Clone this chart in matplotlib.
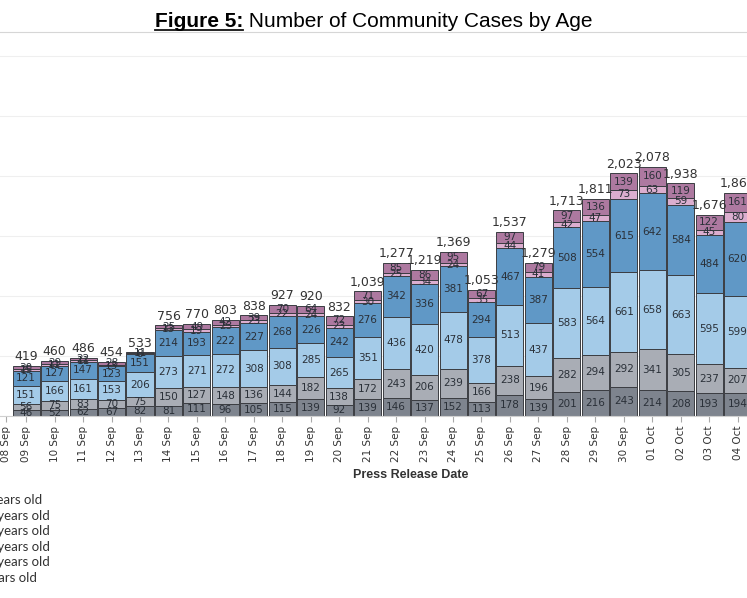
import numpy as np
import matplotlib.pyplot as plt

# press release dates (first label has no bar in the crop)
dates = ['09 Sep', '10 Sep', '11 Sep', '12 Sep', '13 Sep', '14 Sep', '15 Sep',
         '16 Sep', '17 Sep', '18 Sep', '19 Sep', '20 Sep', '21 Sep', '22 Sep',
         '23 Sep', '24 Sep', '25 Sep', '26 Sep', '27 Sep', '28 Sep', '29 Sep',
         '30 Sep', '01 Oct', '02 Oct', '03 Oct', '04 Oct']
first_date = '08 Sep'

# stacked segments, bottom to top
seg1 = [46, 52, 62, 67, 82, 81, 111, 96, 105, 115, 139, 92, 139, 146, 137, 152,
        113, 178, 139, 201, 216, 243, 214, 208, 193, 194]
seg2 = [56, 75, 83, 70, 75, 150, 127, 148, 136, 144, 182, 138, 172, 243, 206, 239,
        166, 238, 196, 282, 294, 292, 341, 305, 237, 207]
seg3 = [151, 166, 161, 153, 206, 273, 271, 272, 308, 308, 285, 265, 351, 436, 420, 478,
        378, 513, 437, 583, 564, 661, 658, 663, 595, 599]
seg4 = [121, 127, 147, 123, 151, 214, 193, 222, 227, 268, 226, 242, 276, 342, 336, 381,
        294, 467, 387, 508, 554, 615, 642, 584, 484, 620]
seg5 = [15, 11, 11, 13, 8, 13, 19, 23, 23, 22, 24, 23, 30, 25, 34, 24,
        35, 44, 41, 42, 47, 73, 63, 59, 45, 80]
seg6 = [30, 29, 22, 28, 11, 25, 49, 42, 39, 70, 64, 72, 71, 85, 86, 95,
        67, 97, 79, 97, 136, 139, 160, 119, 122, 161]

legend_labels = ['5-14 years old', '15-24 years old', '25-44 years old',
                 '45-64 years old', '65-79 years old', '80+ years old']

colors = ['#7e848e', '#a9adb5', '#a4cbe8', '#6098c6', '#dcaecf', '#ad79a0']

W, H = 747, 598
fig = plt.figure(figsize=(W / 100, H / 100), dpi=100)
ax = fig.add_axes([0, 1 - 416 / H, 1, (416 - 32) / H])

x = np.arange(len(dates))
bottom = np.zeros(len(dates))
for vals, col in zip([seg1, seg2, seg3, seg4, seg5, seg6], colors):
    vals = np.array(vals)
    ax.bar(x, vals, bottom=bottom, width=0.95, color=col,
           edgecolor='#3b3d42', linewidth=0.7, zorder=2)
    for xi, b, v in zip(x, bottom, vals):
        ax.text(xi, b + v / 2, str(v), ha='center', va='center',
                fontsize=7.5, color='#2a3038', zorder=3)
    bottom += vals

for xi, tot in zip(x, bottom):
    ax.text(xi, tot + 20, f'{int(tot):,}', ha='center', va='bottom',
            fontsize=9, color='#333333')

ax.set_xlim(-0.92, 25.33)
ax.set_ylim(0, 3200)
ax.set_yticks(np.arange(0, 3001, 500))
ax.yaxis.grid(True, color='#efefef', linewidth=0.8)
ax.set_axisbelow(True)
ax.tick_params(axis='y', left=False, labelleft=False)

ax.set_xticks(list(x) + [-0.72])
ax.set_xticklabels(dates + [first_date], rotation=90, fontsize=7.5, color='#333333')
ax.tick_params(axis='x', length=4, color='#aaaaaa', pad=3)

for s in ['left', 'right']:
    ax.spines[s].set_visible(False)
ax.spines['top'].set_color('#d6d6d6')
ax.spines['bottom'].set_color('#d0d0d0')

ax.set_xlabel('Press Release Date', fontsize=9, fontweight='bold',
              family=['Liberation Sans Narrow', 'Liberation Sans', 'DejaVu Sans'],
              color='#333333')
ax.xaxis.set_label_coords(411 / W, -(469 - 416) / 384)

# legend text (colour keys fall outside the crop)
for i, lab in enumerate(legend_labels):
    fig.text(-42 / W, 1 - (500 + 15.6 * i) / H, lab, ha='left', va='center',
             family=['Lato', 'DejaVu Sans'], fontsize=9.5, color='#333333')

# title with underlined bold prefix
t1 = fig.text(155 / W, 1 - 27 / H, 'Figure 5:', fontsize=15, fontweight='bold',
              family=['Liberation Sans', 'DejaVu Sans'], va='baseline', ha='left')
fig.canvas.draw()
bb = t1.get_window_extent()
fig.text(bb.x1 / W, 1 - 27 / H, ' Number of Community Cases by Age', fontsize=15,
         family=['Liberation Sans', 'DejaVu Sans'], va='baseline', ha='left')
fig.add_artist(plt.Line2D([bb.x0 / W, bb.x1 / W], [1 - 29.5 / H, 1 - 29.5 / H],
                          transform=fig.transFigure, color='#111111', lw=1.3))

fig.savefig('out.png', dpi=100)
